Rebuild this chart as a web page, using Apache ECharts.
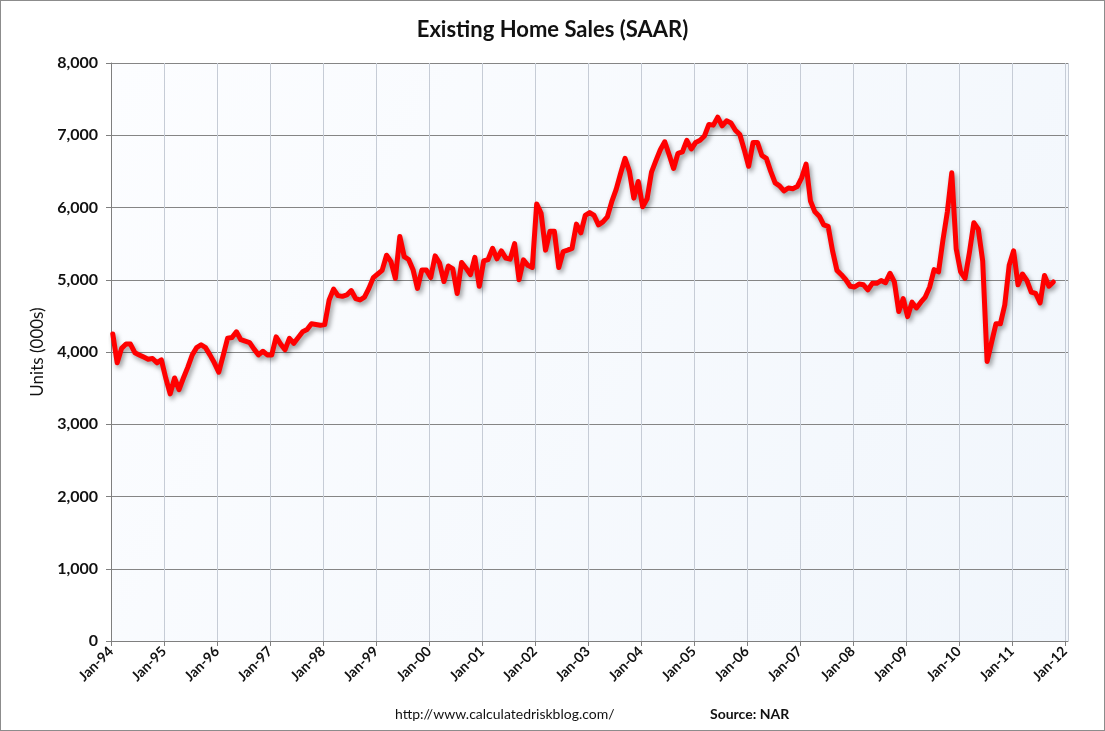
<!DOCTYPE html>
<html>
<head>
<meta charset="utf-8">
<title>Existing Home Sales (SAAR)</title>
<script src="https://cdn.jsdelivr.net/npm/echarts@6/dist/echarts.min.js"></script>
<style>
  html, body { margin: 0; padding: 0; background: #fff; }
  #chart {
    width: 1103px;
    height: 729px;
    border: 1px solid #8c8c8c;
  }
</style>
</head>
<body>
<div id="chart"></div>
<script>
// monthly existing home sales, SAAR, thousands of units (Jan-94 .. Oct-11)
const firstYear = 1994;
const lastTickYear = 2012;
const sales = [
  4250, 3850, 4050, 4110, 4110, 3990, 3960, 3930, 3900, 3910, 3850, 3890, // 1994
  3640, 3420, 3640, 3480, 3640, 3790, 3960, 4060, 4100, 4060, 3960, 3850, // 1995
  3720, 3950, 4190, 4200, 4280, 4170, 4150, 4130, 4040, 3960, 4010, 3960, // 1996
  3960, 4210, 4110, 4030, 4190, 4120, 4200, 4280, 4310, 4390, 4380, 4370, // 1997
  4380, 4720, 4870, 4780, 4770, 4790, 4850, 4740, 4720, 4760, 4880, 5030, // 1998
  5080, 5130, 5340, 5250, 5020, 5600, 5320, 5280, 5140, 4880, 5135, 5135, // 1999
  5030, 5330, 5230, 4975, 5190, 5150, 4810, 5240, 5160, 5070, 5310, 4910, // 2000
  5260, 5280, 5435, 5290, 5400, 5300, 5285, 5500, 5000, 5275, 5200, 5170, // 2001
  6050, 5920, 5410, 5670, 5670, 5170, 5390, 5410, 5435, 5770, 5650, 5890, // 2002
  5930, 5890, 5760, 5800, 5870, 6080, 6250, 6470, 6680, 6500, 6130, 6360, // 2003
  6010, 6120, 6490, 6650, 6800, 6910, 6730, 6540, 6750, 6770, 6930, 6810, // 2004
  6900, 6930, 6990, 7150, 7140, 7250, 7130, 7200, 7170, 7070, 7010, 6800, // 2005
  6570, 6900, 6900, 6720, 6680, 6500, 6340, 6300, 6230, 6270, 6260, 6290, // 2006
  6410, 6600, 6090, 5940, 5880, 5760, 5740, 5400, 5130, 5070, 5000, 4910, // 2007
  4900, 4940, 4930, 4860, 4950, 4950, 4990, 4960, 5090, 4970, 4560, 4740, // 2008
  4490, 4690, 4610, 4690, 4760, 4900, 5140, 5110, 5550, 5940, 6480, 5430, // 2009
  5110, 5020, 5380, 5790, 5700, 5260, 3870, 4130, 4390, 4390, 4650, 5200, // 2010
  5400, 4930, 5080, 4990, 4830, 4810, 4680, 5060, 4910, 4970              // 2011
];
const yTicks = [0, 1000, 2000, 3000, 4000, 5000, 6000, 7000, 8000];

// each month is plotted a little into its month on the date axis
const points = sales.map((v, i) => [firstYear + (i + 0.4) / 12, v]);

const chart = echarts.init(document.getElementById('chart'));

const option = {
  backgroundColor: '#ffffff',
  animation: false,
  title: [
    {
      text: 'Existing Home Sales (SAAR)',
      left: 'center',
      top: 13,
      textStyle: { fontFamily: 'Lato', fontSize: 22, fontWeight: 'bold', color: '#111' }
    },
    {
      text: 'http://www.calculatedriskblog.com/',
      left: 389,
      top: 701,
      textStyle: { fontFamily: 'Lato', fontSize: 14, fontWeight: 'normal', color: '#111' }
    },
    {
      text: 'Source: NAR',
      left: 704,
      top: 701,
      textStyle: { fontFamily: 'Lato', fontSize: 14, fontWeight: 'bold', color: '#111' }
    }
  ],
  grid: {
    left: 110,
    right: 36,
    top: 62,
    bottom: 89,
    show: true,
    borderWidth: 0,
    backgroundColor: new echarts.graphic.LinearGradient(0, 0, 1, 1, [
      { offset: 0, color: '#fcfdff' },
      { offset: 1, color: '#f1f6fc' }
    ])
  },
  xAxis: {
    type: 'value',
    min: firstYear,
    max: lastTickYear + 0.06,
    interval: 1,
    axisLine: { show: true, lineStyle: { color: '#7f7f7f', width: 1 } },
    axisTick: { show: true, length: 5, lineStyle: { color: '#7f7f7f' } },
    splitLine: { show: true, lineStyle: { color: '#c6ccd6', width: 1 } },
    axisLabel: {
      rotate: 45,
      margin: 8,
      showMaxLabel: false,
      fontFamily: 'Lato',
      fontSize: 14,
      fontWeight: 'bold',
      color: '#111',
      formatter: v => 'Jan-' + String(Math.round(v) % 100).padStart(2, '0')
    }
  },
  yAxis: {
    type: 'value',
    min: yTicks[0],
    max: yTicks[yTicks.length - 1],
    interval: yTicks[1] - yTicks[0],
    name: 'Units (000s)',
    nameLocation: 'middle',
    nameGap: 64,
    nameTextStyle: { fontFamily: 'Lato', fontSize: 17, color: '#111' },
    axisLine: { show: true, lineStyle: { color: '#7f7f7f', width: 1 } },
    axisTick: { show: true, length: 5, lineStyle: { color: '#7f7f7f' } },
    splitLine: { show: true, lineStyle: { color: '#858585', width: 1 } },
    axisLabel: {
      margin: 13,
      fontFamily: 'Lato',
      fontSize: 16,
      fontWeight: 'bold',
      color: '#111',
      formatter: v => v.toLocaleString('en-US')
    }
  },
  series: [{
    name: 'Existing Home Sales',
    type: 'line',
    data: points,
    showSymbol: false,
    smooth: false,
    lineStyle: {
      color: '#ff0000',
      width: 5,
      join: 'round',
      cap: 'round',
      shadowColor: 'rgba(0,0,0,0.4)',
      shadowBlur: 5,
      shadowOffsetX: 2,
      shadowOffsetY: 3
    }
  }]
};

chart.setOption(option);
</script>
</body>
</html>
